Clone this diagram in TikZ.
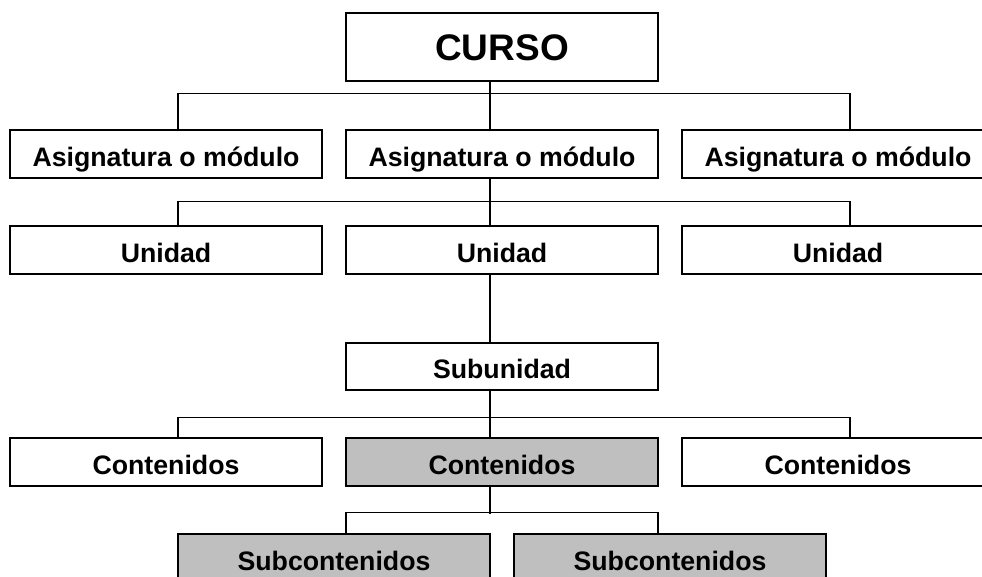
\documentclass[tikz,border=0pt]{standalone}
\usepackage{fontspec}
\setmainfont{Liberation Sans}

\begin{document}
\begin{tikzpicture}[
                x=1pt,
                y=-1pt,
                every node/.style={
                  draw,
                  line width=1.5pt,
                  rectangle,
                  fill=white,
                  inner sep=0pt,
                  minimum width=312pt,
                  minimum height=48pt,
                  text height=24pt,
                  text depth=0pt,
                  font=\bfseries\fontsize{26.7}{32}\selectfont,
                },
                line width=1.5pt,
                shaded/.style={fill=black!25},
              ]
              \useasboundingbox (0,0) rectangle (982,576) ;
              \clip (0,0) rectangle (982,576) ;
              \node at (502,47) [minimum height=68pt,text height=27pt,font=\bfseries\fontsize{37}{44}\selectfont] (curso) {CURSO} ;
              \node at (166,154) (asigA) {Asignatura o módulo} ;
              \node at (502,154) (asigB) {Asignatura o módulo} ;
              \node at (838,154) (asigC) {Asignatura o módulo} ;
              \node at (166,250) (uniA) {Unidad} ;
              \node at (502,250) (uniB) {Unidad} ;
              \node at (838,250) (uniC) {Unidad} ;
              \node at (502,366.5) [minimum height=47pt] (subuni) {Subunidad} ;
              \node at (166,462) (contA) {Contenidos} ;
              \node at (502,462) [shaded] (contB) {Contenidos} ;
              \node at (838,462) (contC) {Contenidos} ;
              \node at (334,558) [shaded] (subA) {Subcontenidos} ;
              \node at (670,558) [shaded] (subB) {Subcontenidos} ;
              \draw ([xshift=-12pt]curso.south)--([xshift=-12pt]asigB.north) ;
              \draw ([xshift=12pt]asigA.north)--++(0,-36) -| ([xshift=12pt]asigC.north) ;
              \draw ([xshift=-12pt]asigB.south)--([xshift=-12pt]uniB.north) ;
              \draw ([xshift=12pt]uniA.north)--++(0,-24) -| ([xshift=12pt]uniC.north) ;
              \draw ([xshift=-12pt]uniB.south)--([xshift=-12pt]subuni.north) ;
              \draw ([xshift=-12pt]subuni.south)--([xshift=-12pt]contB.north) ;
              \draw ([xshift=12pt]contA.north)--++(0,-20) -| ([xshift=12pt]contC.north) ;
              \draw ([xshift=-12pt]contB.south)--++(0,27) ;
              \draw ([xshift=12pt]subA.north)--++(0,-21) -| ([xshift=-12pt]subB.north) ;
              \end{tikzpicture}
\end{document}
